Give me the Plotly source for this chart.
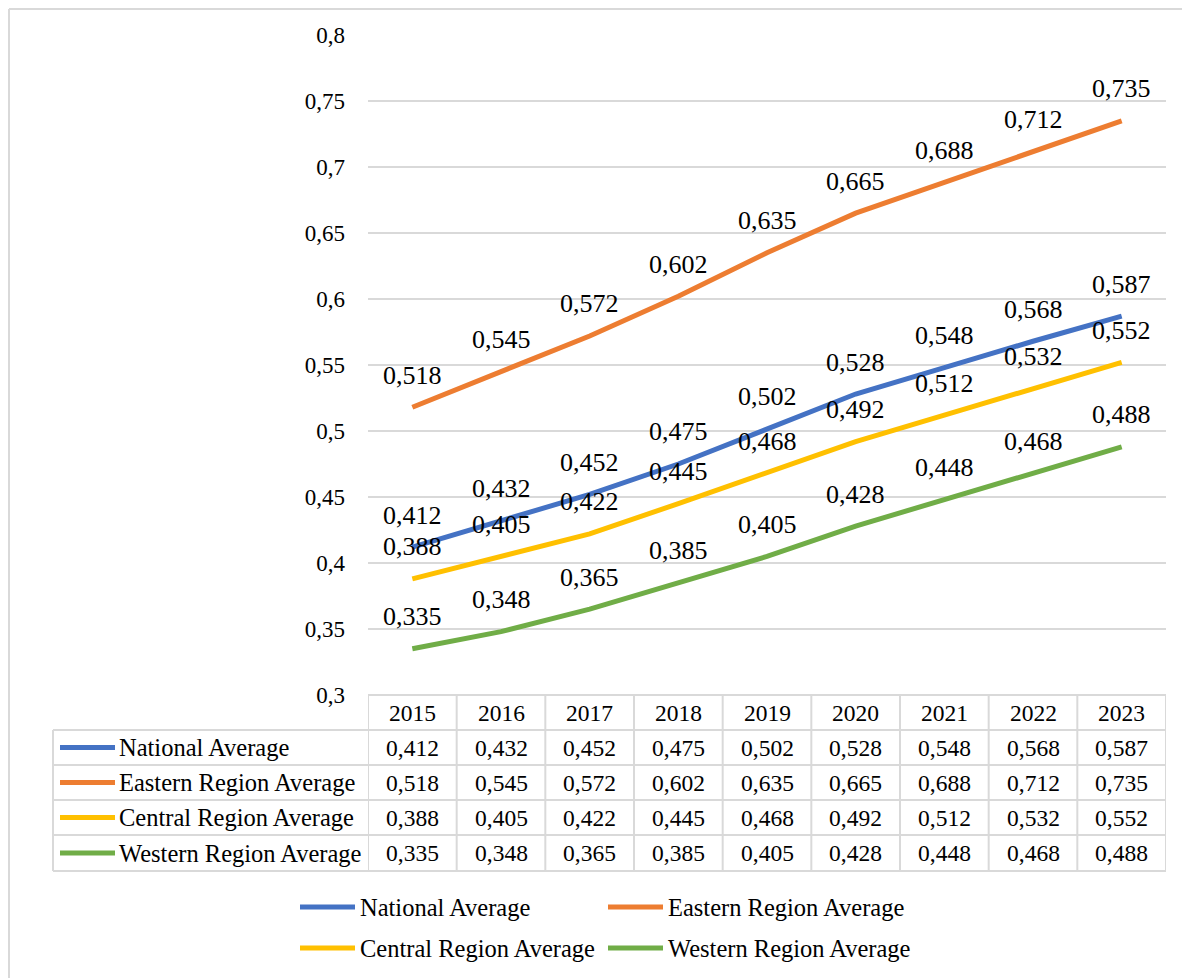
import plotly.graph_objects as go

W, H = 1190, 978
FONT = "Liberation Serif, Times New Roman, serif"

years = [2015, 2016, 2017, 2018, 2019, 2020, 2021, 2022, 2023]
series_names = ["National Average", "Eastern Region Average",
                "Central Region Average", "Western Region Average"]
national = [0.412, 0.432, 0.452, 0.475, 0.502, 0.528, 0.548, 0.568, 0.587]
eastern = [0.518, 0.545, 0.572, 0.602, 0.635, 0.665, 0.688, 0.712, 0.735]
central = [0.388, 0.405, 0.422, 0.445, 0.468, 0.492, 0.512, 0.532, 0.552]
western = [0.335, 0.348, 0.365, 0.385, 0.405, 0.428, 0.448, 0.468, 0.488]
series_values = [national, eastern, central, western]
colors = ["#4472C4", "#ED7D31", "#FFC000", "#70AD47"]
y_ticks = [0.3, 0.35, 0.4, 0.45, 0.5, 0.55, 0.6, 0.65, 0.7, 0.75, 0.8]


def fmt(v):
    s = f"{v:.3f}".rstrip("0").rstrip(".")
    return s.replace(".", ",")


# page body margin offset (screen px -> figure px)
OFF = 8


def px(x):
    return (x - OFF) / W


def py(y):
    return 1 - (y - OFF) / H


GRID = "#d9d9d9"
plot_left, plot_right = 368, 1166
plot_top, plot_bottom = 35, 695
row_edges = [695, 730, 765, 800, 835, 871]
label_left = 53

fig = go.Figure()
for name, vals, c in zip(series_names, series_values, colors):
    fig.add_trace(go.Scatter(x=years, y=vals, mode="lines", name=name,
                             line=dict(color=c, width=5), showlegend=False,
                             hoverinfo="skip"))

annotations = []
shapes = []

# data labels above points
for vals in series_values:
    for yr, v in zip(years, vals):
        annotations.append(dict(x=yr, y=v, xref="x", yref="y", text=fmt(v),
                                showarrow=False, yshift=32,
                                xanchor="center", yanchor="middle",
                                font=dict(family=FONT, size=26, color="black")))

# table: horizontal lines
for i, ye in enumerate(row_edges):
    x0 = plot_left if i == 0 else label_left
    shapes.append(dict(type="line", xref="paper", yref="paper",
                       x0=px(x0), x1=px(plot_right), y0=py(ye), y1=py(ye),
                       line=dict(color=GRID, width=2)))
# vertical lines at column boundaries
for i in range(len(years) + 1):
    xb = years[0] - 0.5 + i
    shapes.append(dict(type="line", xref="x", yref="paper",
                       x0=xb, x1=xb, y0=py(row_edges[0]), y1=py(row_edges[-1]),
                       line=dict(color=GRID, width=2)))
shapes.append(dict(type="line", xref="paper", yref="paper",
                   x0=px(label_left), x1=px(label_left),
                   y0=py(row_edges[1]), y1=py(row_edges[-1]),
                   line=dict(color=GRID, width=2)))

# header years
hc = (row_edges[0] + row_edges[1]) / 2
for yr in years:
    annotations.append(dict(x=yr, y=py(hc), xref="x", yref="paper", text=str(yr),
                            showarrow=False, xanchor="center", yanchor="middle",
                            font=dict(family=FONT, size=23.5, color="black")))

# rows
for r, (name, vals, c) in enumerate(zip(series_names, series_values, colors)):
    yc = (row_edges[r + 1] + row_edges[r + 2]) / 2
    shapes.append(dict(type="line", xref="paper", yref="paper",
                       x0=px(60), x1=px(115), y0=py(yc), y1=py(yc),
                       line=dict(color=c, width=5)))
    annotations.append(dict(x=px(117), y=py(yc), xref="paper", yref="paper",
                            text=name, showarrow=False, xanchor="left",
                            yanchor="middle",
                            font=dict(family=FONT, size=24.5, color="black")))
    for yr, v in zip(years, vals):
        annotations.append(dict(x=yr, y=py(yc), xref="x", yref="paper",
                                text=fmt(v), showarrow=False,
                                xanchor="center", yanchor="middle",
                                font=dict(family=FONT, size=23.5, color="black")))

# bottom legend
leg_pos = [(300, 907), (608, 907), (300, 948), (608, 948)]
for (lx, ly), name, c in zip(leg_pos, series_names, colors):
    shapes.append(dict(type="line", xref="paper", yref="paper",
                       x0=px(lx), x1=px(lx + 55), y0=py(ly), y1=py(ly),
                       line=dict(color=c, width=5)))
    annotations.append(dict(x=px(lx + 58), y=py(ly), xref="paper", yref="paper",
                            text=name, showarrow=False, xanchor="left",
                            yanchor="middle",
                            font=dict(family=FONT, size=24.5, color="black")))

# outer frame
shapes.append(dict(type="line", xref="paper", yref="paper",
                   x0=px(9), x1=px(1210), y0=py(9), y1=py(9),
                   line=dict(color=GRID, width=2)))
shapes.append(dict(type="line", xref="paper", yref="paper",
                   x0=px(9), x1=px(9), y0=py(9), y1=py(1000),
                   line=dict(color=GRID, width=2)))

fig.update_layout(
    template="none",
    width=W, height=H, autosize=False,
    margin=dict(l=0, r=0, t=0, b=0, pad=0),
    paper_bgcolor="white", plot_bgcolor="white",
    separators=",.",
    font=dict(family=FONT, color="black"),
    annotations=annotations, shapes=shapes,
    xaxis=dict(domain=[px(plot_left), px(plot_right)],
               range=[years[0] - 0.5, years[-1] + 0.5],
               showgrid=False, zeroline=False, showticklabels=False,
               showline=False, ticks="", automargin=False, fixedrange=True),
    yaxis=dict(domain=[py(plot_bottom), py(plot_top)],
               range=[y_ticks[0], y_ticks[-1]],
               tickvals=y_ticks, ticktext=[fmt(v) for v in y_ticks],
               showgrid=True, gridcolor=GRID, gridwidth=2,
               zeroline=False, showline=False, ticks="",
               ticklabelstandoff=22, automargin=False,
               tickfont=dict(family=FONT, size=23, color="black"),
               fixedrange=True),
)

fig.write_html("out.html")
